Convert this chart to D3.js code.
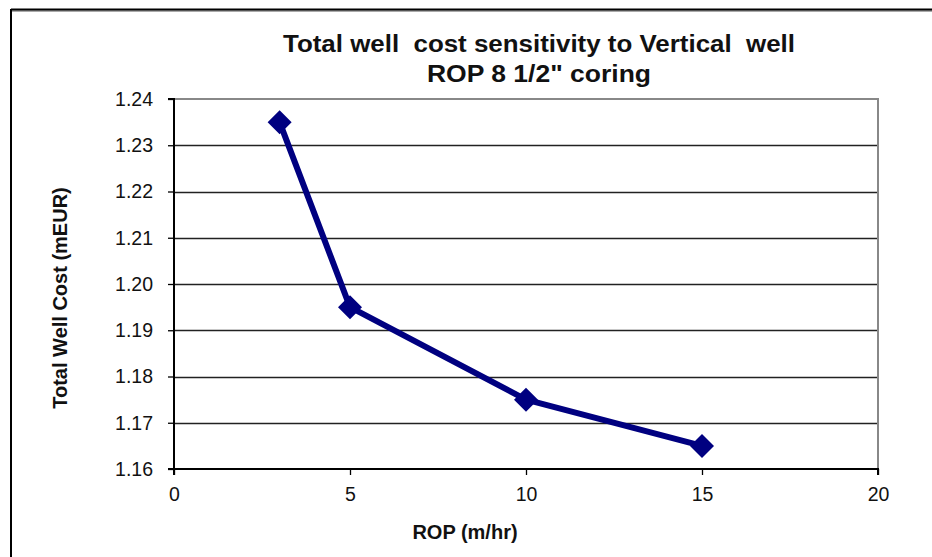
<!DOCTYPE html>
<html><head><meta charset="utf-8">
<script src="https://cdn.jsdelivr.net/npm/d3@7"></script>
<style>body{margin:0;background:#fff}svg{display:block}text{font-family:"Liberation Sans",Arial,sans-serif}</style>
</head><body><svg id="c" width="932" height="557"></svg>
<script>
const ropValues = [3, 5, 10, 15];
const costValues = [1.235, 1.195, 1.175, 1.165];
const xTicks = [0, 5, 10, 15, 20];
const yTicks = [1.16, 1.17, 1.18, 1.19, 1.20, 1.21, 1.22, 1.23, 1.24];
const titleLines = ["Total well  cost sensitivity to Vertical  well", "ROP 8 1/2\" coring"];
const xLabel = "ROP (m/hr)";
const yLabel = "Total Well Cost (mEUR)";

const svg = d3.select("#c");
const L = 174, R = 878, T = 99, B = 469;
const x = d3.scaleLinear().domain([0, 20]).range([L, R]);
const y = d3.scaleLinear().domain([1.16, 1.24]).range([B, T]);

// outer frame
svg.append("line").attr("x1", 11).attr("x2", 932).attr("y1", 11).attr("y2", 11).attr("stroke", "#aaa").attr("stroke-width", 2);
svg.append("line").attr("x1", 11).attr("x2", 932).attr("y1", 9.5).attr("y2", 9.5).attr("stroke", "#000").attr("stroke-width", 2);
svg.append("line").attr("x1", 11).attr("x2", 11).attr("y1", 9).attr("y2", 557).attr("stroke", "#000").attr("stroke-width", 2);

// gridlines
svg.append("g").selectAll("line").data(yTicks.slice(1, -1)).join("line")
  .attr("x1", L).attr("x2", R).attr("y1", d => Math.round(y(d)) + 0.5).attr("y2", d => Math.round(y(d)) + 0.5)
  .attr("stroke", "#222").attr("stroke-width", 1.3);
// plot border top/right gray
svg.append("path").attr("d", `M${L},${T}H${R}V${B}`).attr("fill", "none").attr("stroke", "#888").attr("stroke-width", 2);

// axes
const yAxis = d3.axisLeft(y).tickValues(yTicks).tickFormat(d3.format(".2f")).tickSize(6).tickPadding(15);
const gy = svg.append("g").attr("transform", `translate(${L},0)`).call(yAxis);
const xAxis = d3.axisBottom(x).tickValues(xTicks).tickFormat(d3.format("d")).tickSize(6).tickPadding(12);
const gx = svg.append("g").attr("transform", `translate(0,${B})`).call(xAxis);
[gy, gx].forEach(g => {
  g.select(".domain").attr("stroke", "#000").attr("stroke-width", 2);
  g.selectAll(".tick line").attr("stroke", "#000").attr("stroke-width", 1.3);
  g.selectAll(".tick text").attr("font-size", 19.5).attr("fill", "#111").attr("font-family", "Liberation Sans, Arial, sans-serif");
});
gx.select(".domain").attr("d", `M${L},6V0H${R}V6`);
gy.select(".domain").attr("d", `M-6,${T}H0V${B}H-6`);

// line
const data = ropValues.map((r, i) => ({r, c: costValues[i]}));
svg.append("path").datum(data)
  .attr("d", d3.line().x(d => x(d.r)).y(d => y(d.c)))
  .attr("fill", "none").attr("stroke", "#000080").attr("stroke-width", 6).attr("stroke-linejoin", "round");
svg.append("g").selectAll("path").data(data).join("path")
  .attr("transform", d => `translate(${x(d.r)},${y(d.c)})`)
  .attr("d", "M0,-12L12,0L0,12L-12,0Z").attr("fill", "#000080");

// title
const titleWidths = [512, 224];
svg.append("g").selectAll("text").data(titleLines).join("text")
  .attr("x", 539).attr("y", (d, i) => 52 + i * 30).attr("text-anchor", "middle")
  .attr("font-size", 23.5).attr("font-weight", "bold").style("white-space", "pre").attr("fill", "#111")
  .attr("textLength", (d, i) => titleWidths[i]).attr("lengthAdjust", "spacingAndGlyphs")
  .text(d => d);

// axis labels
svg.append("text").attr("x", 465).attr("y", 539).attr("text-anchor", "middle")
  .attr("font-size", 20).attr("font-weight", "bold").attr("fill", "#111").text(xLabel);
svg.append("text").attr("transform", "translate(67,298) rotate(-90)").attr("text-anchor", "middle")
  .attr("font-size", 20).attr("font-weight", "bold").attr("fill", "#111").text(yLabel);
</script></body></html>
